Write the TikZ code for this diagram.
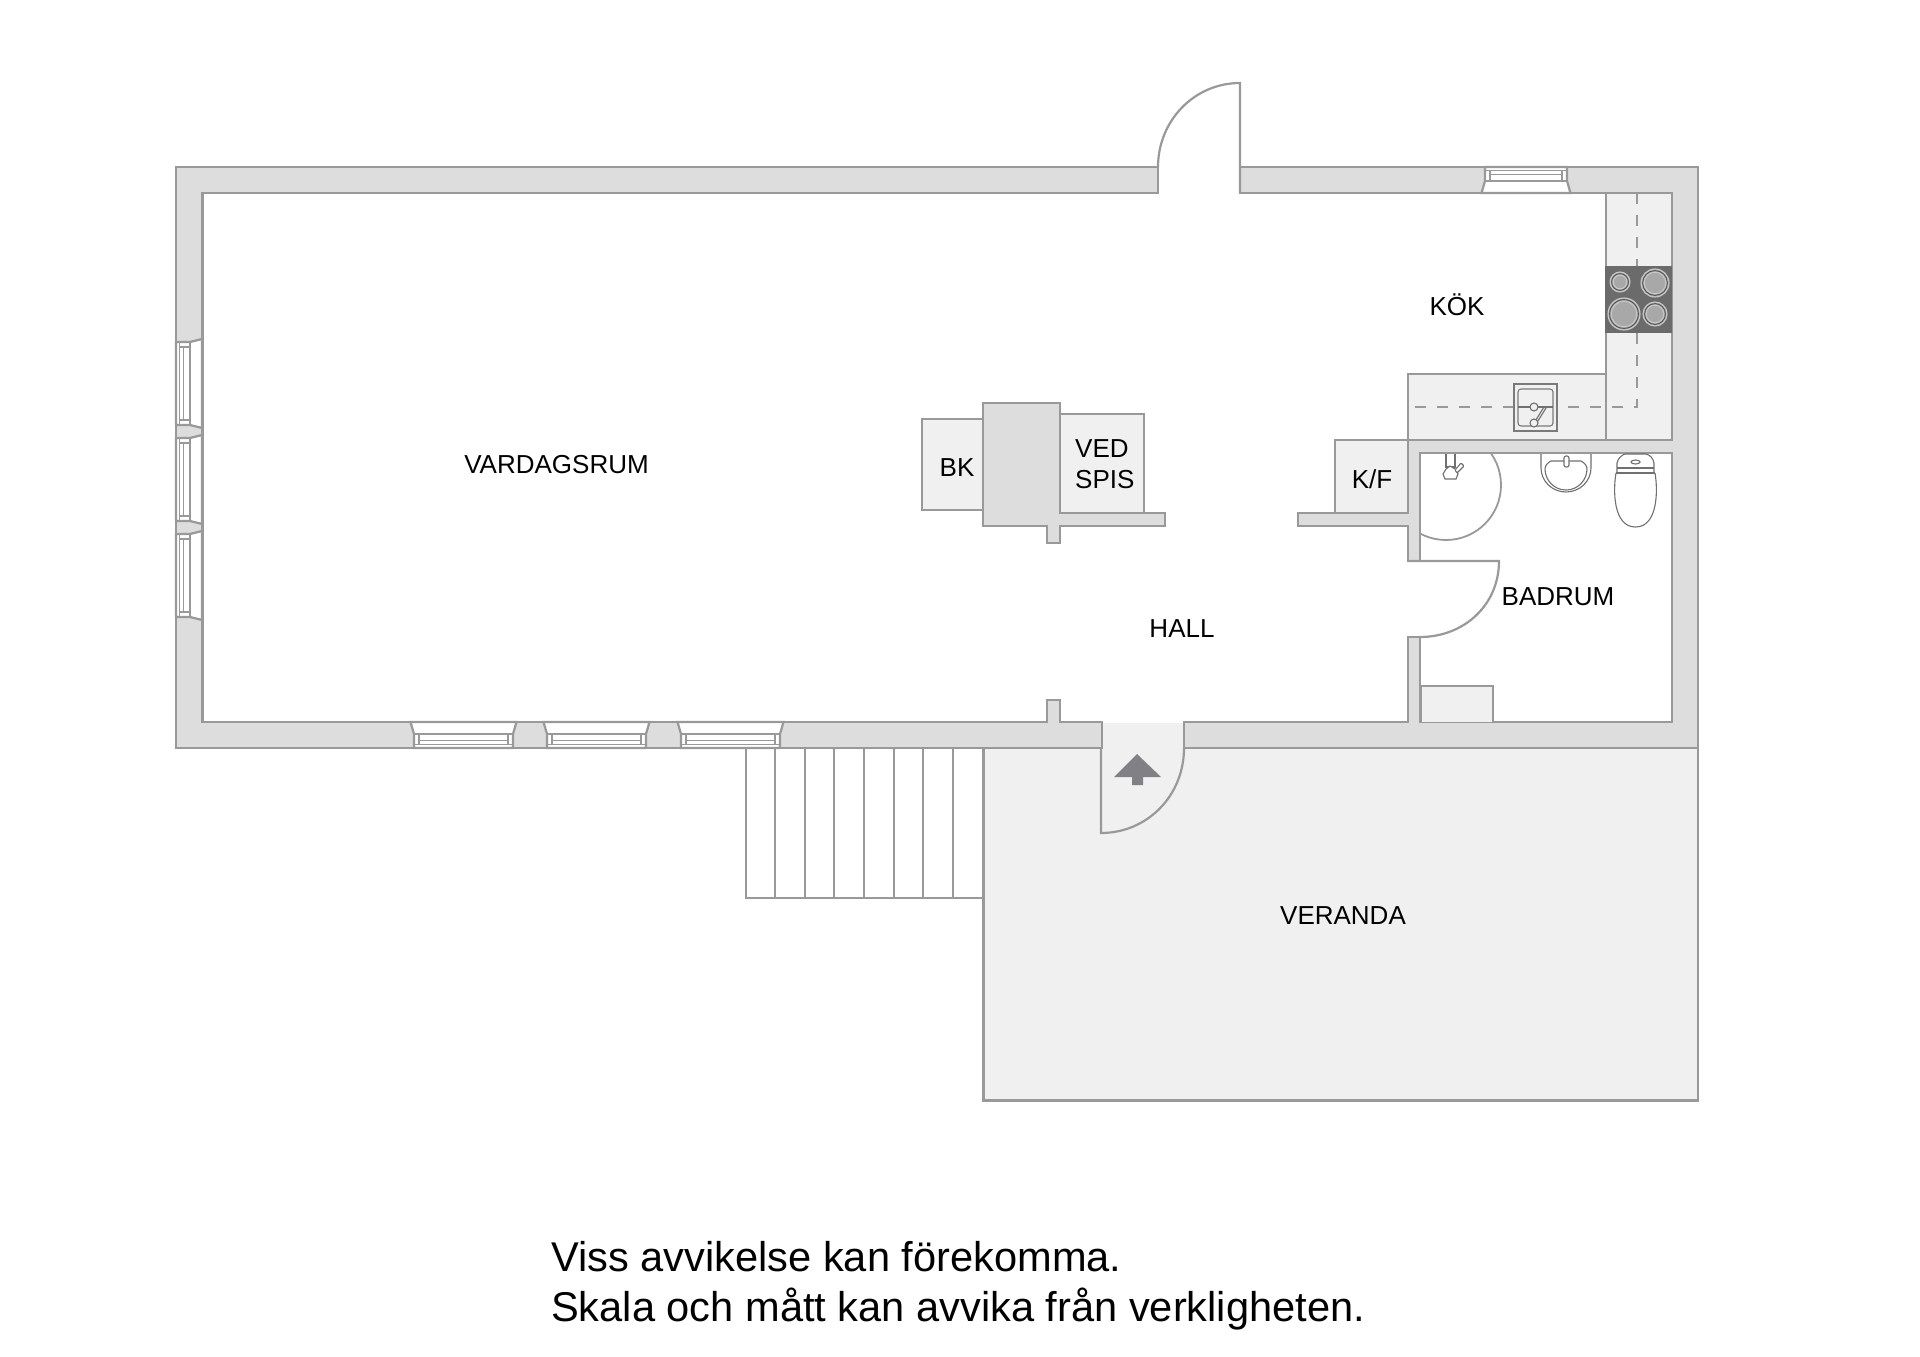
\documentclass[tikz,border=0pt]{standalone}
\usepackage{fontspec}
\setmainfont{Liberation Sans}
\tikzset{
  wall/.style={fill=wallgray,draw=linegray,line width=2.2pt,line join=miter},
  fitted/.style={fill=fitgray,draw=linegray,line width=2.2pt},
  plain/.style={draw=linegray,line width=2.2pt},
  fine/.style={draw=finegray,line width=1.1pt},
  burner/.style={draw=burnline,fill=burnfill,line width=1.1pt},
  lbl/.style={font=\fontsize{26}{31}\selectfont,text=black,inner sep=0pt,align=center},
  foot/.style={font=\fontsize{41.6}{50}\selectfont,text=black,inner sep=0pt,anchor=base west},
  dashline/.style={draw=linegray,line width=1.7pt,dash pattern=on 11pt off 11pt},
}
\definecolor{wallgray}{HTML}{DDDDDD}
\definecolor{fitgray}{HTML}{F0F0F0}
\definecolor{linegray}{HTML}{999999}
\definecolor{finegray}{HTML}{707070}
\definecolor{stovegray}{HTML}{6B6B6B}
\definecolor{burnline}{HTML}{C8C8C8}
\definecolor{burndark}{HTML}{555555}
\definecolor{burnfill}{HTML}{A8A8A8}
\definecolor{arrowgray}{HTML}{808085}
\newcommand{\winH}[4]{%
  \fill[white] (#1,#2) -- ({#1},{#2+#3*14}) -- ({#1-3.5},{#2+#3*26}) -- ({#1+#4+3.5},{#2+#3*26}) -- ({#1+#4},{#2+#3*14}) -- ({#1+#4},#2) -- cycle;
  \draw[plain] ({#1+#4},#2) -- (#1,#2) -- ({#1},{#2+#3*14}) -- ({#1-3.5},{#2+#3*26}) -- ({#1+#4+3.5},{#2+#3*26}) -- ({#1+#4},{#2+#3*14}) -- ({#1+#4},#2);
  \draw[plain,line width=1.6pt] (#1,{#2+#3*14}) -- ({#1+#4},{#2+#3*14})
    (#1,{#2+#3*3.5}) -- ({#1+#4},{#2+#3*3.5})
    ({#1+5},{#2+#3*7.5}) -- ({#1+#4-5},{#2+#3*7.5})
    ({#1+5},{#2+#3*3.5}) -- ({#1+5},{#2+#3*14})
    ({#1+#4-5},{#2+#3*3.5}) -- ({#1+#4-5},{#2+#3*14});
}
\newcommand{\winV}[4]{%
  \fill[white] (#2,#1) -- ({#2+#3*14},{#1}) -- ({#2+#3*26},{#1-3}) -- ({#2+#3*26},{#1+#4+3}) -- ({#2+#3*14},{#1+#4}) -- (#2,{#1+#4}) -- cycle;
  \draw[plain] (#2,{#1+#4}) -- (#2,#1) -- ({#2+#3*14},{#1}) -- ({#2+#3*26},{#1-3}) -- ({#2+#3*26},{#1+#4+3}) -- ({#2+#3*14},{#1+#4}) -- (#2,{#1+#4});
  \draw[plain,line width=1.6pt] ({#2+#3*14},#1) -- ({#2+#3*14},{#1+#4})
    ({#2+#3*3.5},#1) -- ({#2+#3*3.5},{#1+#4})
    ({#2+#3*7.5},{#1+5}) -- ({#2+#3*7.5},{#1+#4-5})
    ({#2+#3*3.5},{#1+5}) -- ({#2+#3*14},{#1+5})
    ({#2+#3*3.5},{#1+#4-5}) -- ({#2+#3*14},{#1+#4-5});
}
\newcommand{\hob}[3]{%
  \draw[burner] (#1,#2) circle[radius=#3];
  \draw[burndark,line width=0.9pt] (#1,#2) circle[radius={#3-1.6}];
  \draw[burnline,line width=1pt] (#1,#2) circle[radius={#3-3.2}];
}
\begin{document}
\begin{tikzpicture}[x=1pt,y=-1pt]
\useasboundingbox (0,0) rectangle (1920,1357);
\fill[white] (0,0) rectangle (1920,1357);
% veranda
\draw[fitted] (983.5,748) rectangle (1698,1100.5);
% stairs
\draw[plain] (746,748) -- (746,898) -- (983,898);
\foreach \x in {775,805,834,864,894,923,953} {\draw[plain] (\x,748) -- (\x,898);}
% walls
\draw[wall] (1158,193) -- (1158,167) -- (176,167) -- (176,748) -- (1102,748) -- (1102,722) -- (1060,722) -- (1060,700) -- (1047,700) -- (1047,722) -- (202.5,722) -- (202.5,193) -- cycle;
\draw[wall] (1240,193) -- (1240,167) -- (1698,167) -- (1698,748) -- (1184,748) -- (1184,722) -- (1408,722) -- (1408,637) -- (1420,637) -- (1420,722) -- (1672,722) -- (1672,453) -- (1420,453) -- (1420,561) -- (1408,561) -- (1408,526) -- (1298,526) -- (1298,513) -- (1408,513) -- (1408,440) -- (1672,440) -- (1672,193) -- cycle;
% entrance threshold
\fill[fitgray] (1103.1,723.1) rectangle (1182.9,750);
% windows
\winH{414}{748}{-1}{99}
\winH{547}{748}{-1}{99}
\winH{681}{748}{-1}{99}
\winH{1485}{167}{1}{82}
\winV{342}{176}{1}{83}
\winV{438}{176}{1}{83}
\winV{534}{176}{1}{83}
% kitchen counters
\draw[fitted] (1408,374) rectangle (1606,440);
\draw[fitted] (1606,193) rectangle (1672,440);
\draw[dashline] (1637,193) -- (1637,266);
\draw[dashline] (1637,333) -- (1637,407) -- (1557,407);
\draw[dashline] (1514,407) -- (1412,407);
% stove
\fill[stovegray] (1605,266) rectangle (1672,333);
\hob{1620}{282}{10}
\hob{1655}{283}{14}
\hob{1624}{314}{16}
\hob{1655}{314}{12}
% kitchen sink
\draw[fine,draw=linegray!80!black,fill=fitgray] (1514,384) rectangle (1557,431);
\draw[fine,draw=linegray!80!black,rounded corners=3pt] (1518,389) rectangle (1553,426);
\draw[fine] (1518,407) -- (1553,407);
\draw[fine,fill=fitgray] (1534,423) -- (1544,407) -- (1546,408) -- (1536,424) -- cycle;
\draw[fine,fill=fitgray] (1534,407) circle[radius=4];
\draw[fine,fill=fitgray] (1534,423) circle[radius=4];
% hearth
\draw[fitted] (922,419) rectangle (983,510);
\draw[fitted] (1060,414) rectangle (1144,513);
\draw[wall] (983,403) -- (1060,403) -- (1060,513) -- (1165,513) -- (1165,526) -- (1060,526) -- (1060,543) -- (1047,543) -- (1047,526) -- (983,526) -- cycle;
% K/F and bathroom box
\draw[fitted] (1335,513) -- (1335,440) -- (1408,440) -- (1408,513) -- cycle;
\draw[fitted] (1421,722) -- (1421,686) -- (1493,686) -- (1493,722);
% doors
\draw[plain] (1158,167) .. controls (1158,121) and (1194,83) .. (1240,83) -- (1240,193);
\draw[plain] (1408,561) -- (1499,561) .. controls (1499,605) and (1464,637) .. (1420,637);
\draw[plain] (1101,748) -- (1101,833) .. controls (1147,833) and (1184,796) .. (1184,748);
\begin{scope}
\clip (1421,454) rectangle (1672,722);
\draw[plain,line width=1.8pt] (1446,485) circle[radius=55];
\end{scope}
% shower tap
\draw[fine,fill=white] (1446,454) -- (1446,467) -- (1455,467) -- (1455,454);
\draw[fine,fill=white] (1443,474) -- (1446,469) -- (1450,466) -- (1455,469) -- (1458,474) -- (1456,479) -- (1445,479) -- cycle;
\draw[fine,fill=white,rounded corners=1pt] (1455,470) -- (1461,463) -- (1464,466) -- (1457,473) -- cycle;
% basin
\draw[fine] (1541,454) -- (1541,468) .. controls (1541,481) and (1552,492) .. (1566,492) .. controls (1580,492) and (1591,481) .. (1591,468) -- (1591,454);
\draw[fine] (1551,461) -- (1581,461) .. controls (1585,463) and (1587,466) .. (1587,469) .. controls (1587,480) and (1578,490) .. (1566,490) .. controls (1554,490) and (1545,480) .. (1545,469) .. controls (1545,466) and (1547,463) .. (1551,461) -- cycle;
\draw[fine,fill=white,rounded corners=2pt] (1564,456) rectangle (1569,467);
% toilet
\draw[fine,fill=white] (1617,473) -- (1617,463) .. controls (1618,458) and (1622,455) .. (1625,454) -- (1646,454) .. controls (1650,455) and (1653,458) .. (1654,463) -- (1654,473) -- cycle;
\draw[fine] (1635.5,462) ellipse[x radius=4.5,y radius=2];
\draw[fine] (1617,468) -- (1654,468);
\draw[fine,line width=1.5pt] (1616,473) -- (1655,473);
\draw[fine] (1616,473) .. controls (1613,490) and (1613,527) .. (1635.5,527) .. controls (1658,527) and (1658,490) .. (1655,473);
% entrance arrow
\fill[arrowgray] (1137,754) -- (1161,777) -- (1143,777) -- (1143,785) -- (1132,785) -- (1132,777) -- (1114,777) -- cycle;
% labels
\node[lbl] (vardagsrum) at (556.5,465) {VARDAGSRUM};
\node[lbl] (kok) at (1457,304.5) {KÖK};
\node[lbl] (bk) at (957,468) {BK};
\node[lbl,align=left,anchor=west] (vedspis) at (1075,464.5) {VED\\SPIS};
\node[lbl] (kf) at (1372,479) {K/F};
\node[lbl] (badrum) at (1558,596.5) {BADRUM};
\node[lbl] (hall) at (1182,629) {HALL};
\node[lbl] (veranda) at (1343,916) {VERANDA};
\node[foot] (note1) at (551,1271.5) {Viss avvikelse kan förekomma.};
\node[foot] (note2) at (551,1321.5) {Skala och mått kan avvika från verkligheten.};
\end{tikzpicture}
\end{document}
